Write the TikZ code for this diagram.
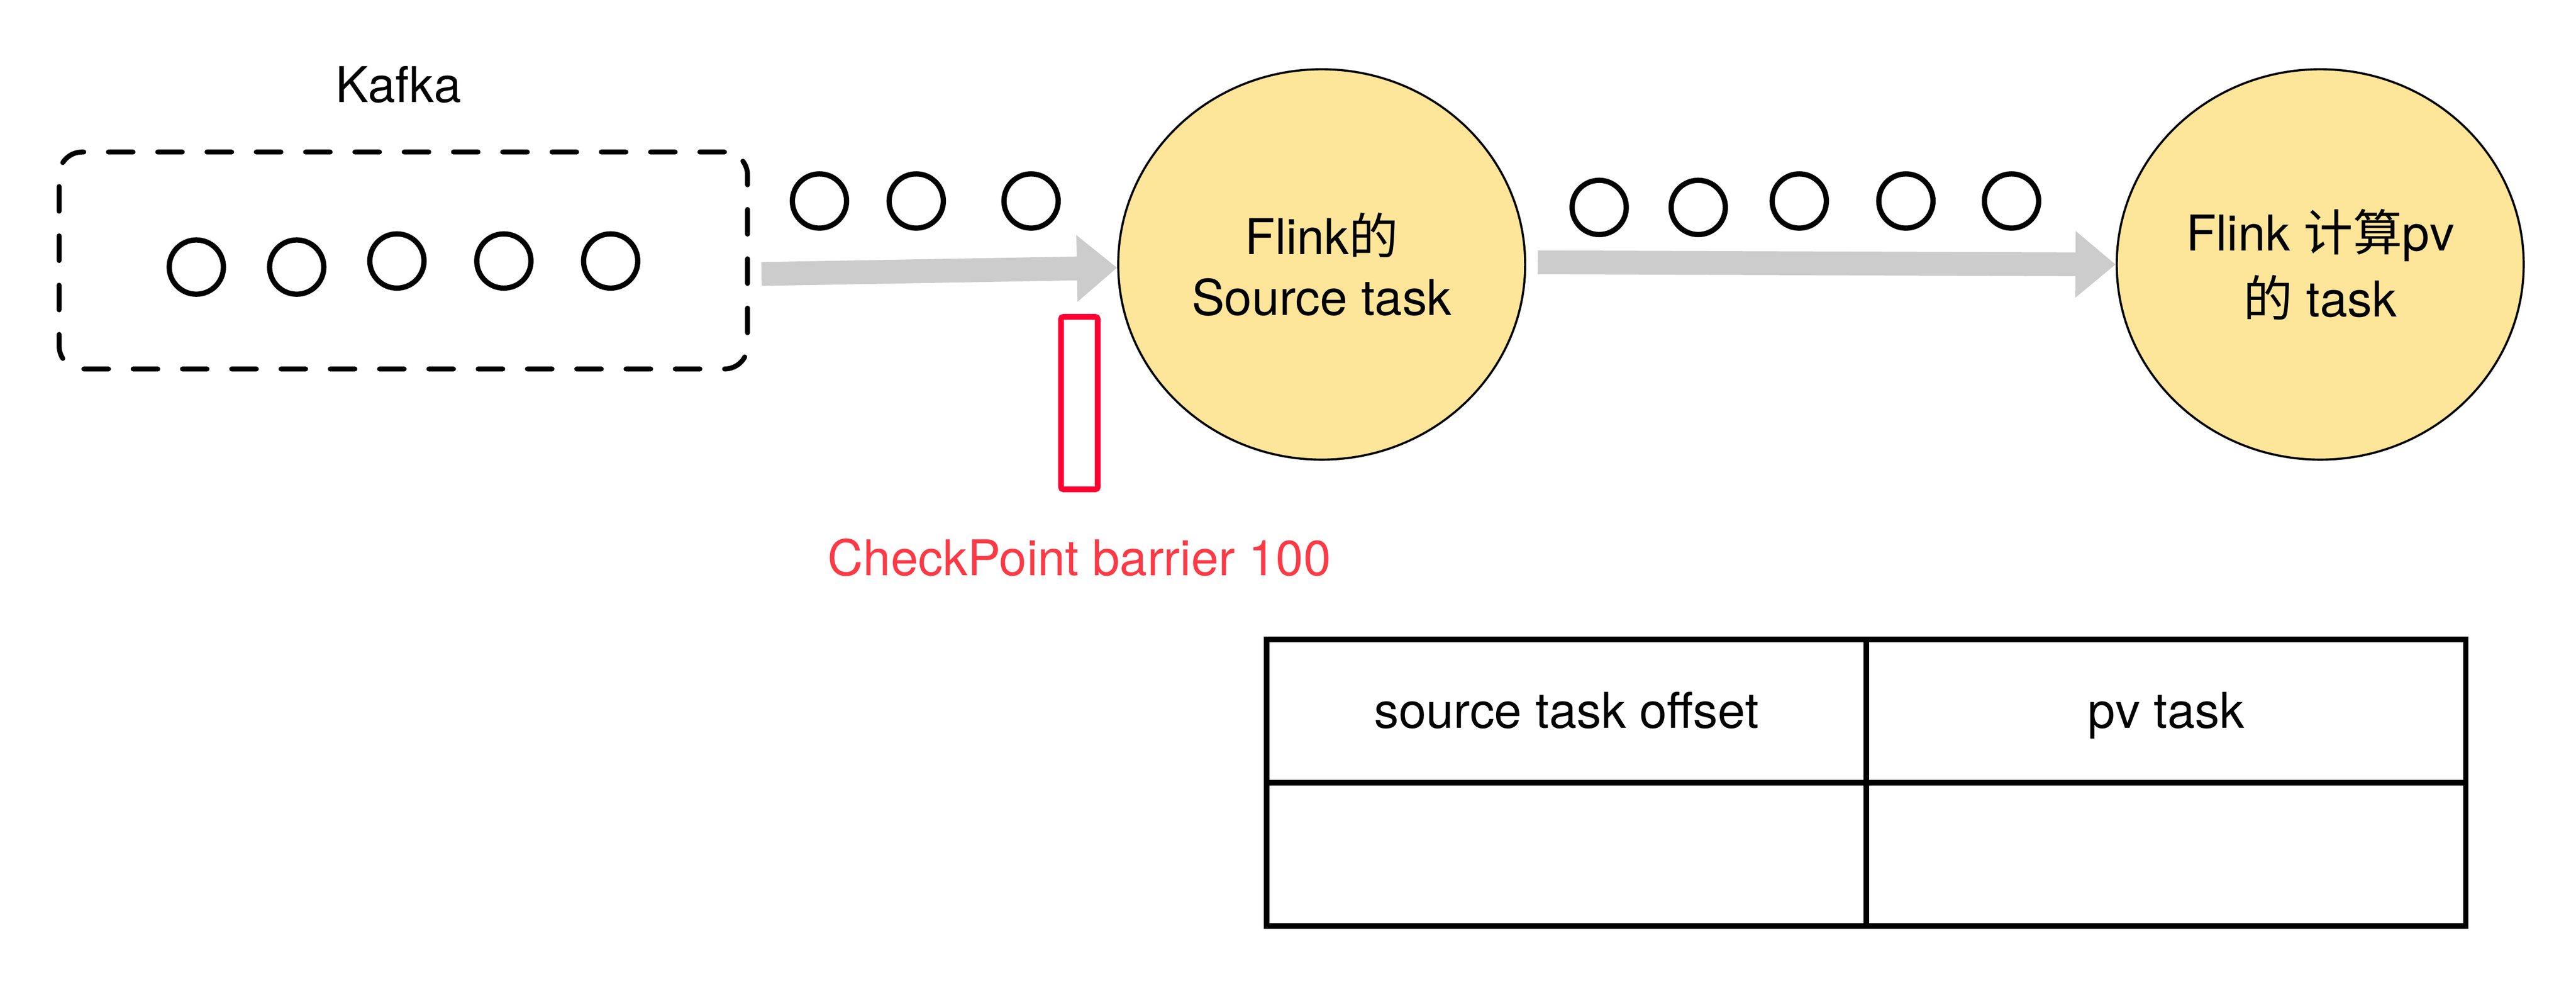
\documentclass[tikz,border=0pt]{standalone}
\usepackage{fontspec}
\setmainfont{TeX Gyre Heros}
\newfontfamily\cjk{Noto Sans CJK SC}
\usepackage{tikz}
\usetikzlibrary{matrix, positioning, shapes.geometric, arrows.meta}
\definecolor{taskfill}{HTML}{FDE59A}
\definecolor{barrierred}{HTML}{FF0033}
\definecolor{labelred}{HTML}{FC3A46}
\definecolor{flowgray}{HTML}{CCCCCC}

\begin{document}
\begin{tikzpicture}[x=1pt, y=1pt, font=\fontsize{30}{37}\selectfont,
  rec/.style={circle, draw, line width=3.2pt, minimum size=33pt, inner sep=0pt},
  task/.style={ellipse, draw, line width=1.3pt, fill=taskfill, minimum width=247.7pt, minimum height=237.5pt, align=center, inner sep=0pt},
  flow/.style={draw=flowgray, line width=14.5pt, -{Triangle[length=24.5pt, width=39pt]}}]
\useasboundingbox (0,0) rectangle (1568,598.6);
\node (kafka)[draw, line width=3pt, dash pattern=on 15pt off 15pt, line cap=round, rounded corners=14pt, minimum width=419pt, minimum height=132pt] at (245.5,440.1) {};
\node (kafkalbl)[above=28pt of kafka, xshift=-3pt, inner sep=0pt] {Kafka};
\foreach \x/\y [count=\i] in {119.5/436.1, 180.6/436.1, 241.6/439.8, 306.7/439.8, 371.7/439.8}
  \node[rec] (k\i) at (\x,\y) {};
\foreach \x/\y [count=\i] in {498.8/476.3, 557.7/476.3, 627.6/476.3}
  \node[rec] (m\i) at (\x,\y) {};
\foreach \x/\y [count=\i] in {973.4/472.4, 1033.7/472.4, 1095.2/476.3, 1160.1/476.3, 1224.4/476.3}
  \node[rec] (n\i) at (\x,\y) {};
\node[task] (src) at (804.5,437.7) {Flink{\cjk 的}\\Source task};
\node[task] (pv) at (1412.3,437.7) {Flink {\cjk 计算}pv\\[3pt]{\cjk 的} task};
\draw[flow] ([xshift=7pt, yshift=-8.2pt]kafka.east) -- ([yshift=-2pt]src.west);
\draw[flow] ([xshift=7pt, yshift=1.3pt]src.east) -- (pv.west);
\node (barrier)[draw=barrierred, line width=3.5pt, rounded corners=1.5pt, minimum width=22.4pt, minimum height=104.9pt, inner sep=0pt] at (657,353.35) {};
\node (cplabel)[text=labelred, below=28pt of barrier, inner sep=0pt] {CheckPoint barrier 100};
\matrix (tbl)[matrix of nodes, line width=3.2pt, column sep=-\pgflinewidth, row sep=-\pgflinewidth, nodes in empty cells, nodes={draw, anchor=center, minimum width=365pt, minimum height=87.2pt, text height=21pt, text depth=0pt, inner sep=0pt}] at (1136,122.4) {
source task offset & pv task \\
 & \\
};
\end{tikzpicture}
\end{document}
